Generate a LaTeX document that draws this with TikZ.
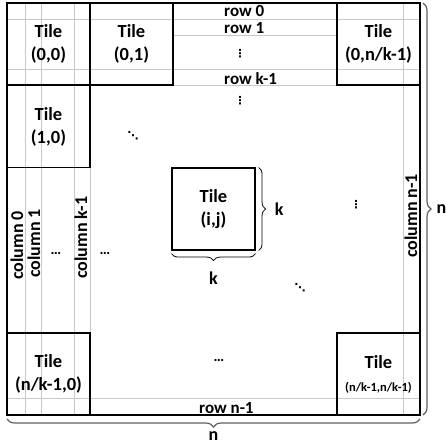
\documentclass[tikz,border=0pt]{standalone}
\usepackage{fontspec}
\setmainfont{Carlito}
\newfontfamily\dotfont{DejaVu Sans}
\usetikzlibrary{positioning,decorations.pathreplacing}
\definecolor{gridgray}{RGB}{200,200,200}
\definecolor{bracegray}{RGB}{95,95,95}

\begin{document}
\begin{tikzpicture}[x=1pt,y=-1pt]
  \tikzset{
    tile/.style={draw=black,line width=1.1pt,minimum width=83pt,minimum height=82pt,inner sep=0pt,align=center,font=\fontsize{18.5}{23}\selectfont\bfseries},
    gline/.style={draw=gridgray,line width=0.7pt},
    rowlab/.style={anchor=base west,inner sep=0pt,font=\fontsize{17}{20}\selectfont\bfseries},
    collab/.style={anchor=base west,inner sep=0pt,rotate=90,font=\fontsize{18}{22}\selectfont\bfseries},
    dotlab/.style={inner sep=0pt,font=\fontsize{11}{12}\dotfont\bfseries},
    hdots/.style={inner sep=0pt,font=\fontsize{15}{18}\selectfont\bfseries},
    blab/.style={inner sep=0pt,font=\fontsize{18}{22}\selectfont\bfseries},
    kbrace/.style={decorate,decoration={brace,amplitude=7pt},draw=black,line width=0.8pt},
    nbrace/.style={decorate,decoration={brace,amplitude=8pt},draw=bracegray,line width=1.2pt},
  }
  \useasboundingbox (0,0) rectangle (446,444);
  \coordinate (nw) at (7,3);
  \coordinate (se) at (420,415);
  \coordinate (ne) at (se |- nw);
  \coordinate (sw) at (nw |- se);

  % single rows and columns
  \foreach \gx in {25,41,74,90,403}
    \draw[gline] (\gx,3) -- (\gx,415);
  \foreach \gy in {19.5,69,85,398}
    \draw[gline] (7,\gy) -- (420,\gy);
  \draw[gline] (173,35) -- (337,35);

  \draw[line width=1.4pt] (nw) rectangle (se);

  % tiles
  \node[tile] (t00) at (48.5,44) {Tile\\(0,0)};
  \node[tile] (t01) at (131.5,44) {Tile\\(0,1)};
  \node[tile] (t0n) at (378.5,44) {Tile\\(0,n/k-1)};
  \node[tile] (t10) at (48.5,126.5) {Tile\\(1,0)};
  \node[tile] (tij) at (213.5,209) {Tile\\(i,j)};
  \node[tile] (tn0) at (48.5,374) {Tile\\(n/k-1,0)};
  \node[tile] (tnn) at (378.5,374) {Tile\\{\fontsize{12.5}{14}\selectfont(n/k-1,n/k-1)}};

  % row and column labels
  \node[rowlab] (r0) at (224,16.5) {row 0};
  \node[rowlab] (r1) at (224,33.5) {row 1};
  \node[rowlab] (rk) at (224,84) {row k-1};
  \node[rowlab] (rn) at (199,413) {row n-1};
  \node[collab] (c0) at (23,280) {column 0};
  \node[collab] (c1) at (40,278) {column 1};
  \node[collab] (ck) at (87,279) {column k-1};
  \node[collab] (cn) at (417,258) {column n-1};

  % dots
  \node[dotlab] (v1) at (240,54) {⋮};
  \node[dotlab] (v2) at (240,101) {⋮};
  \node[dotlab] (v3) at (356,205) {⋮};
  \node[dotlab] (d1) at (133,136) {⋱};
  \node[dotlab] (d2) at (300,288) {⋱};
  \node[hdots] (h1) at (56,253) {\dots};
  \node[hdots] (h2) at (105,253) {\dots};
  \node[hdots] (h3) at (219,360) {\dots};

  % braces
  \draw[kbrace] ([xshift=3pt]tij.north east) -- ([xshift=3pt]tij.south east)
    node[blab,midway,right=16pt] (kr) {k};
  \draw[kbrace] ([yshift=-3pt]tij.south east) -- ([yshift=-3pt]tij.south west)
    node[blab,midway,below=18pt] (kb) {k};
  \draw[nbrace] ([xshift=3pt]ne) -- ([xshift=3pt]se)
    node[blab,midway,right=13pt] (nr) {n};
  \draw[nbrace] ([yshift=-4pt]se) -- ([yshift=-4pt]sw)
    node[blab,midway,below=12pt] (nb) {n};
\end{tikzpicture}
\end{document}
